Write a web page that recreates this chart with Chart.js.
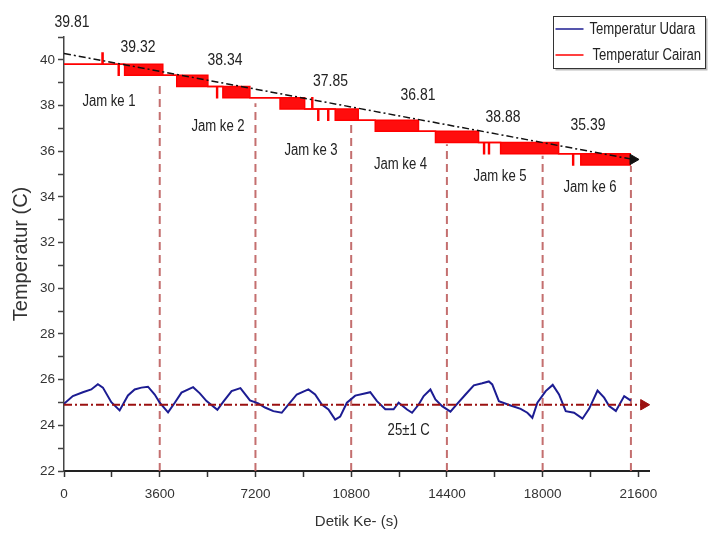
<!DOCTYPE html>
<html><head><meta charset="utf-8">
<script src="https://cdn.jsdelivr.net/npm/chart.js@4"></script>
<style>html,body{margin:0;padding:0;background:#fff}#wrap{width:716px;height:538px;position:relative}</style>
</head><body><div id="wrap"><canvas id="c"></canvas></div>
<script>
// ---- data ----
const cairanT  = [0, 1430, 1470, 2040, 2075, 2280, 3715, 4240, 5410, 5740, 5775, 5975, 6990, 8125, 9050, 9320, 9355, 9545, 9580, 9920, 9955, 10200, 11065, 11705, 13330, 13970, 15590, 15780, 15815, 15965, 16000, 16420, 18600, 19130, 19165, 19435, 21320];
const cairanHi = [39.81, 40.30, 39.81, 39.81, 39.81, 39.81, 39.32, 39.32, 38.83, 38.83, 38.83, 38.83, 38.34, 38.34, 37.85, 38.34, 37.85, 37.85, 37.85, 37.85, 37.85, 37.85, 37.36, 37.36, 36.87, 36.87, 36.38, 36.38, 36.38, 36.38, 36.38, 36.38, 35.89, 35.89, 35.89, 35.89, 35.89];
const cairanLo = [39.81, 39.81, 39.81, 39.32, 39.81, 39.32, 39.32, 38.83, 38.83, 38.34, 38.83, 38.34, 38.34, 37.85, 37.85, 37.85, 37.85, 37.36, 37.85, 37.36, 37.85, 37.36, 37.36, 36.87, 36.87, 36.38, 36.38, 35.89, 36.38, 35.89, 36.38, 35.89, 35.89, 35.40, 35.89, 35.40, 35.40];

const udaraT = [0, 332, 709, 1025, 1274, 1463, 1779, 2092, 2405, 2658, 2910, 3159, 3412, 3600, 3913, 4166, 4418, 4856, 5108, 5361, 5768, 5987, 6303, 6635, 6993, 7306, 7559, 7872, 8188, 8437, 8754, 9191, 9444, 9696, 9945, 10198, 10386, 10639, 10952, 11265, 11517, 11770, 12083, 12396, 12584, 12901, 13089, 13338, 13527, 13779, 13968, 14220, 14533, 14786, 15099, 15412, 15728, 15977, 16105, 16354, 16795, 17172, 17425, 17613, 17802, 18115, 18379, 18616, 18869, 19182, 19498, 19747, 20064, 20313, 20501, 20754, 21067, 21319];
const udaraV = [24.94, 25.28, 25.45, 25.57, 25.80, 25.65, 25.01, 24.65, 25.31, 25.57, 25.65, 25.69, 25.35, 24.99, 24.57, 24.99, 25.43, 25.67, 25.40, 25.06, 24.68, 25.03, 25.50, 25.63, 25.09, 24.96, 24.78, 24.62, 24.55, 24.91, 25.35, 25.57, 25.35, 24.91, 24.69, 24.25, 24.38, 24.99, 25.30, 25.38, 25.45, 25.06, 24.70, 24.70, 24.99, 24.69, 24.55, 24.91, 25.28, 25.57, 25.13, 24.84, 24.60, 24.94, 25.35, 25.75, 25.84, 25.92, 25.79, 25.06, 24.87, 24.72, 24.55, 24.33, 24.99, 25.50, 25.77, 25.35, 24.62, 24.55, 24.29, 24.72, 25.52, 25.21, 24.84, 24.63, 25.28, 25.08];

const trendT = [0, 21400];
const trendV = [40.28, 35.64];
const refT = [0, 21800];
const refV = [24.9, 24.9];

const hourMarks = [3600, 7200, 10800, 14400, 18000, 21320];
const hourTops  = [38.85, 38.1, 37.35, 36.3, 35.8, 35.35];

const xTickValues = [0, 1800, 3600, 5400, 7200, 9000, 10800, 12600, 14400, 16200, 18000, 19800, 21600];
const xTickLabels = ['0', '', '3600', '', '7200', '', '10800', '', '14400', '', '18000', '', '21600'];
const yTickValues = [22, 23, 24, 25, 26, 27, 28, 29, 30, 31, 32, 33, 34, 35, 36, 37, 38, 39, 40, 41];
const yTickLabels = ['22', '', '24', '', '26', '', '28', '', '30', '', '32', '', '34', '', '36', '', '38', '', '40', ''];

const valueLabels = ['39.81', '39.32', '38.34', '37.85', '36.81', '38.88', '35.39'];
const valueLabelT = [301, 2783, 6055, 10023, 13314, 16511, 19708];
const valueLabelV = [41.66, 40.56, 39.97, 39.05, 38.44, 37.50, 37.15];

const jamLabels = ['Jam ke 1', 'Jam ke 2', 'Jam ke 3', 'Jam ke 4', 'Jam ke 5', 'Jam ke 6'];
const jamT = [1692, 5792, 9290, 12656, 16398, 19783];
const jamV = [38.16, 37.06, 36.03, 35.42, 34.89, 34.41];

const bandLabel = '25\u00B11 C';
const bandT = 12964;
const bandV = 23.75;

const xTitle = 'Detik Ke- (s)';
const yTitle = 'Temperatur (C)';

// ---- chart ----
const FONT = "'Liberation Sans', Arial, sans-serif";
const NARROW = 0.82;
const xy = (ts, vs) => ts.map((t, i) => ({x: t, y: vs[i]}));
const guideData = [];
hourMarks.forEach((h, i) => { guideData.push({x: h, y: 22}, {x: h, y: hourTops[i]}, {x: h, y: null}); });
const lastOnly = (ctx) => ctx.dataIndex === ctx.dataset.data.length - 1 ? 6 : 0;

function narrowText(ctx, s, x, y) {
  ctx.save();
  ctx.translate(x, y);
  ctx.scale(NARROW, 1);
  ctx.fillText(s, 0, 0);
  ctx.restore();
}

const annot = {
  id: 'annot',
  afterDraw(chart) {
    const {ctx, scales: {x, y}} = chart;
    ctx.save();
    ctx.fillStyle = '#222';
    ctx.textAlign = 'center';
    ctx.textBaseline = 'middle';
    ctx.font = '17px ' + FONT;
    valueLabels.forEach((s, i) => narrowText(ctx, s, x.getPixelForValue(valueLabelT[i]), y.getPixelForValue(valueLabelV[i])));
    ctx.font = '16px ' + FONT;
    jamLabels.forEach((s, i) => narrowText(ctx, s, x.getPixelForValue(jamT[i]), y.getPixelForValue(jamV[i])));
    narrowText(ctx, bandLabel, x.getPixelForValue(bandT), y.getPixelForValue(bandV));

    // legend
    const items = chart.data.datasets.filter(d => d.inLegend);
    const bx = 553.5, by = 16.5, bw = 152, bh = 52;
    ctx.fillStyle = '#bbb';
    ctx.fillRect(bx + 2, by + 2, bw, bh);
    ctx.fillStyle = '#fff';
    ctx.fillRect(bx, by, bw, bh);
    ctx.strokeStyle = '#333';
    ctx.lineWidth = 1;
    ctx.strokeRect(bx, by, bw, bh);
    ctx.textAlign = 'left';
    ctx.font = '16px ' + FONT;
    items.forEach((d, i) => {
      const yy = by + 12.5 + i * 26;
      ctx.strokeStyle = d.borderColor;
      ctx.lineWidth = 1.5;
      ctx.beginPath(); ctx.moveTo(bx + 2, yy); ctx.lineTo(bx + 30, yy); ctx.stroke();
      ctx.fillStyle = '#222';
      narrowText(ctx, d.label, bx + 36 + i * 3, yy + 1);
    });
    ctx.restore();
  }
};

new Chart(document.getElementById('c'), {
  type: 'line',
  data: {
    datasets: [
      {label: 'trend', data: xy(trendT, trendV), borderColor: '#111', borderWidth: 1.5, borderDash: [7, 3, 2, 3],
       pointRadius: lastOnly, pointStyle: 'triangle', rotation: 90, pointBackgroundColor: '#111', pointBorderColor: '#111', pointBorderWidth: 1, order: 0, clip: false},
      {label: 'ref', data: xy(refT, refV), borderColor: '#9b1010', borderWidth: 2, borderDash: [8, 3, 2, 3],
       pointRadius: lastOnly, pointStyle: 'triangle', rotation: 90, pointBackgroundColor: '#9b1010', pointBorderColor: '#9b1010', pointBorderWidth: 1, order: 1, clip: false},
      {label: 'Temperatur Udara', inLegend: true, data: xy(udaraT, udaraV), borderColor: '#1c1c92', borderWidth: 2, pointRadius: 0, tension: 0, order: 2},
      {label: 'Temperatur Cairan', inLegend: true, data: xy(cairanT, cairanHi), stepped: 'before', borderColor: '#ff0000', borderWidth: 1.5, pointRadius: 0, fill: false, order: 3},
      {label: 'cairanLo', data: xy(cairanT, cairanLo), stepped: 'before', borderColor: '#ff0000', borderWidth: 1.5, pointRadius: 0, fill: '-1', backgroundColor: 'rgba(255,0,0,0.95)', order: 3},
      {label: 'guides', data: guideData, borderColor: 'rgba(190,95,95,0.9)', borderWidth: 2, borderDash: [8, 5], pointRadius: 0, spanGaps: false, order: 5}
    ]
  },
  options: {
    responsive: true, maintainAspectRatio: false, animation: false, events: [],
    layout: {padding: {top: 37, right: 67, left: 0, bottom: 0}},
    plugins: {legend: {display: false}, tooltip: {enabled: false}, filler: {propagate: false}},
    scales: {
      x: {
        type: 'linear', min: 0, max: 22000,
        afterBuildTicks: s => { s.ticks = xTickValues.map(v => ({value: v})); },
        afterFit: s => { s.height = 67; },
        ticks: {autoSkip: false, maxRotation: 0, minRotation: 0, padding: 9, color: '#333',
                font: {family: FONT, size: 13.5}, callback: (v, i) => xTickLabels[i]},
        grid: {drawOnChartArea: false, drawTicks: true, tickLength: 6, tickColor: '#333', tickWidth: 1.5},
        border: {display: true, color: '#222', width: 2},
        title: {display: true, text: xTitle, color: '#333', font: {family: FONT, size: 15}, padding: {top: 0, bottom: 7}}
      },
      y: {
        min: 22, max: 41,
        afterBuildTicks: s => { s.ticks = yTickValues.map(v => ({value: v})); },
        afterFit: s => { s.width = 64; },
        ticks: {autoSkip: false, padding: 3, color: '#333',
                font: {family: FONT, size: 13.5}, callback: (v, i) => yTickLabels[i]},
        grid: {drawOnChartArea: false, drawTicks: true, tickLength: 6, tickColor: '#444', tickWidth: 1.5},
        border: {display: true, color: '#444', width: 1.5},
        title: {display: true, text: yTitle, color: '#333', font: {family: FONT, size: 20}, padding: {top: 9, bottom: 0}}
      }
    }
  },
  plugins: [annot]
});
</script>
</body></html>
